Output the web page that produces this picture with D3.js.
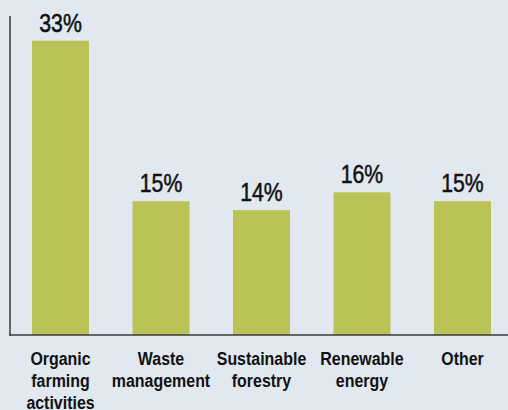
<!DOCTYPE html>
<html><head><meta charset="utf-8">
<script src="https://cdn.jsdelivr.net/npm/d3@7"></script>
<style>
html,body{margin:0;padding:0;background:#e1e8f0;}
svg{display:block;}
</style></head>
<body>
<svg id="chart" width="508" height="410"></svg>
<script>
const categories = [["Organic","farming","activities"],["Waste","management"],["Sustainable","forestry"],["Renewable","energy"],["Other"]];
const values = [33, 15, 14, 16, 15];
const valueLabels = ["33%","15%","14%","16%","15%"];

const svg = d3.select("#chart");
const W = 508, H = 410;
svg.append("rect").attr("width", W).attr("height", H).attr("fill", "#e1e8f0");

const x = d3.scaleBand().domain(d3.range(values.length)).range([7.5, 515.5]).paddingInner(0.433).paddingOuter(0.244);
const y = d3.scaleLinear().domain([0, 36]).range([335, 14]);
const FONT = "'Liberation Sans',Arial,sans-serif";

const g = svg.append("g");
g.selectAll("rect.bar").data(values).join("rect")
  .attr("class","bar")
  .attr("x", (d,i) => x(i))
  .attr("width", x.bandwidth())
  .attr("y", d => y(d))
  .attr("height", d => y(0) - y(d))
  .attr("fill", "#bbc256");

g.selectAll("text.val").data(values).join("text")
  .attr("class","val")
  .attr("transform", (d,i) => `translate(${x(i) + x.bandwidth()/2},${y(d) - 9}) scale(0.85,1)`)
  .attr("text-anchor","middle")
  .attr("font-family", FONT)
  .attr("font-size", 25)
  .attr("fill","#111")
  .attr("stroke","#111")
  .attr("stroke-width",0.5)
  .text((d,i) => valueLabels[i]);

// axes
svg.append("line").attr("x1",10).attr("x2",10).attr("y1",16).attr("y2",y(0)+0.75)
  .attr("stroke","#3a3a3a").attr("stroke-width",1.5);
svg.append("line").attr("x1",9.25).attr("x2",508).attr("y1",y(0)).attr("y2",y(0))
  .attr("stroke","#3a3a3a").attr("stroke-width",1.5);

const labels = svg.selectAll("text.cat").data(categories).join("text")
  .attr("class","cat")
  .attr("transform", (d,i) => `translate(${x(i) + x.bandwidth()/2},0) scale(0.84,1)`)
  .attr("text-anchor","middle")
  .attr("font-family", FONT)
  .attr("font-weight","bold")
  .attr("font-size", 19)
  .attr("fill","#111");
labels.each(function(lines, i){
  const t = d3.select(this);
  lines.forEach((ln, k) => {
    t.append("tspan").attr("x", 0).attr("y", 365 + k*22).text(ln);
  });
});
</script>
</body></html>
